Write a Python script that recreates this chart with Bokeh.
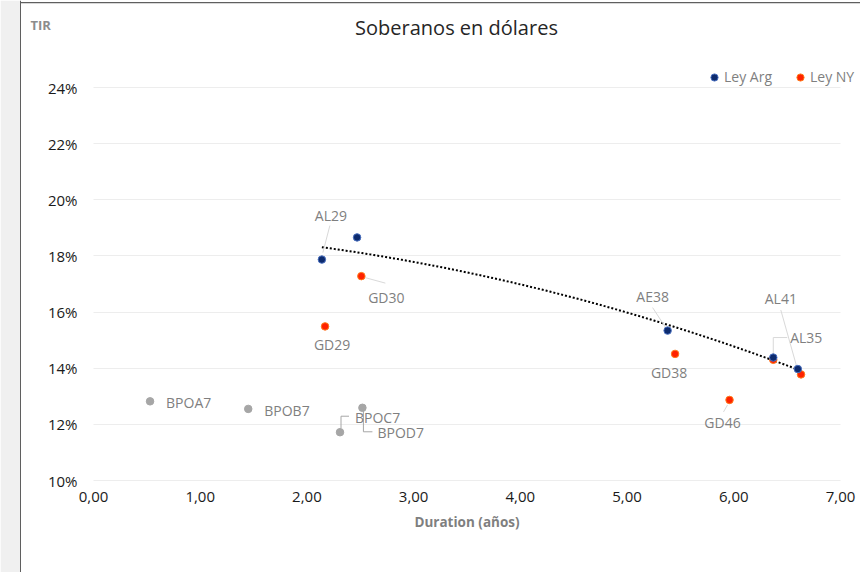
import numpy as np
from bokeh.plotting import figure
from bokeh.models import (Range1d, Legend, LegendItem, CustomJSTickFormatter, Label,
                          FixedTicker, ColumnDataSource, BoxAnnotation, Span)
from bokeh.core.properties import value
from bokeh.embed import file_html
from bokeh.resources import INLINE

# ---------------- data ----------------
arg_names = ["AL29", "AL30", "AE38", "AL35", "AL41"]
arg_dur = [2.14, 2.47, 5.38, 6.37, 6.60]
arg_tir = [17.87, 18.66, 15.34, 14.38, 13.97]

ny_names = ["GD29", "GD30", "GD38", "GD35", "GD41", "GD46"]
ny_dur = [2.17, 2.51, 5.45, 6.37, 6.63, 5.96]
ny_tir = [15.49, 17.28, 14.51, 14.30, 13.78, 12.87]

bp_names = ["BPOA7", "BPOB7", "BPOC7", "BPOD7"]
bp_dur = [0.53, 1.45, 2.31, 2.52]
bp_tir = [12.82, 12.55, 11.72, 12.59]

y_ticks = [10, 12, 14, 16, 18, 20, 22, 24]
x_ticks = [0, 1, 2, 3, 4, 5, 6, 7]

# ---------------- styling / layout (pixels) ----------------
FONT = "Open Sans"
GREY_TXT = "#7f7f7f"
W, H = 860, 572
PX0, PX7 = 93, 840        # pixel of x=0 and x=7
PY24, PY10 = 87, 480      # pixel of y=24 and y=10
SX = (PX7 - PX0) / 7
SY = (PY10 - PY24) / 14
X_START = 0 - PX0 / SX
X_END = 7 + (W - PX7) / SX
Y_START = 10 - (H - PY10) / SY
Y_END = 24 + PY24 / SY


def dx(px):
    return X_START + px / SX


def dy(py):
    return Y_END - py / SY


# label placement: (dx, dy) px of text anchor from point (screen, y down), align, leader polyline px offsets, leader colour
LBL = {
    "AL29": ((9, -44), "center", [(1, -7), (8, -34)], "#d9d9d9"),
    "GD30": ((25, 21), "center", [(2, 1), (24, 7)], "#d9d9d9"),
    "GD29": ((7, 18), "center", None, None),
    "AE38": ((-15, -34), "center", [(-15, -23), (-2, -3)], "#d9d9d9"),
    "GD38": ((-6, 19), "center", None, None),
    "GD46": ((-7, 23), "center", [(-2, 5), (-6, 12)], "#d9d9d9"),
    "AL41": ((-17, -71), "center", [(-17, -59), (-1, -2)], "#d9d9d9"),
    "AL35": ((33, -20), "center", [(14, -20), (0, -20), (0, -3)], "#d9d9d9"),
    "BPOA7": ((16, 1), "left", None, None),
    "BPOB7": ((16, 2), "left", None, None),
    "BPOC7": ((15, -15), "left", [(9, -16), (1, -16), (1, -4)], "#a6a6a6"),
    "BPOD7": ((15, 25), "left", [(1, 3), (1, 24), (10, 24)], "#a6a6a6"),
}

p = figure(width=W, height=H, output_backend="svg", toolbar_location=None,
           x_range=Range1d(X_START, X_END), y_range=Range1d(Y_START, Y_END),
           min_border_left=0, min_border_right=0, min_border_top=0, min_border_bottom=0)
p.title_location = None
p.outline_line_color = None
p.background_fill_color = "white"
p.border_fill_color = "white"

# chart-area decoration: grey strip and border on the left, border on top
p.add_layout(BoxAnnotation(left=X_START, right=dx(20), fill_color="#f0f0f0", fill_alpha=1,
                           line_color=None, level="underlay"))
p.add_layout(Span(location=dx(20), dimension="height", line_color="#5f5f5f", line_width=1))
p.add_layout(BoxAnnotation(left=dx(20), top=dy(1.5), bottom=dy(2.8), fill_color="#5f5f5f",
                           fill_alpha=1, line_color=None))

# axes (drawn inside the frame at fixed data positions)
p.xaxis.ticker = FixedTicker(ticks=x_ticks)
p.yaxis.ticker = FixedTicker(ticks=y_ticks)
p.xaxis.formatter = CustomJSTickFormatter(code="return tick.toFixed(2).replace('.', ',');")
p.yaxis.formatter = CustomJSTickFormatter(code="return tick.toFixed(0) + '%';")
p.yaxis.fixed_location = 0
p.xaxis.fixed_location = 10
for ax in (p.xaxis[0], p.yaxis[0]):
    ax.axis_line_color = None
    ax.major_tick_line_color = None
    ax.minor_tick_line_color = None
    ax.major_tick_out = 0
    ax.major_tick_in = 0
    ax.minor_tick_out = 0
    ax.major_label_text_font = FONT
    ax.major_label_text_font_size = "15px"
    ax.major_label_text_color = "#1a1a1a"
p.yaxis.major_label_standoff = 16
p.xaxis.major_label_standoff = 11

p.xgrid.grid_line_color = None
g = p.ygrid[0]
if "cross_bounds" in g.properties():
    g.cross_bounds = (0, 7)
    g.grid_line_color = "#ededed"
else:
    g.grid_line_color = None
    p.segment(x0=[0] * len(y_ticks), x1=[7] * len(y_ticks), y0=y_ticks, y1=y_ticks,
              line_color="#ededed", line_width=1, level="underlay")

# trend line (quadratic fit over Ley Arg bonds)
coef = np.polyfit(arg_dur, arg_tir, 2)
tx = np.linspace(min(arg_dur), max(arg_dur), 120)
p.line(tx, np.polyval(coef, tx), line_color="black", line_width=2, line_dash="2 2")

# leader lines
all_pts = {}
for n, x, y in zip(arg_names + ny_names + bp_names, arg_dur + ny_dur + bp_dur, arg_tir + ny_tir + bp_tir):
    all_pts[n] = (x, y)
lx, ly, lc = [], [], []
for n, (off, al, lead, col) in LBL.items():
    if lead:
        x, y = all_pts[n]
        lx.append([x + ddx / SX for ddx, ddy in lead])
        ly.append([y - ddy / SY for ddx, ddy in lead])
        lc.append(col)
p.multi_line(xs=lx, ys=ly, line_color=lc, line_width=1)

# points
r_bp = p.scatter(bp_dur, bp_tir, size=7.5, fill_color="#a6a6a6", line_color="#a6a6a6")
r_ny = p.scatter(ny_dur, ny_tir, size=7.5, fill_color="#ff2200", line_color="#ff7a1a", line_width=1)
r_arg = p.scatter(arg_dur, arg_tir, size=7.5, fill_color="#0d2b6e", line_color="#4a70c0", line_width=1)

# point labels
for align in ("center", "left"):
    xs, ys, ts, xo, yo = [], [], [], [], []
    for n, (off, al, lead, col) in LBL.items():
        if al != align:
            continue
        x, y = all_pts[n]
        xs.append(x); ys.append(y); ts.append(n); xo.append(off[0]); yo.append(off[1])
    src = ColumnDataSource(dict(x=xs, y=ys, t=ts, xo=xo, yo=yo))
    p.text(x="x", y="y", text="t", x_offset="xo", y_offset="yo", source=src,
           text_font=value(FONT), text_font_size="14px", text_color=GREY_TXT,
           text_align=align, text_baseline="middle")

# title, axis caption and axis title
p.add_layout(Label(x=dx(456), y=dy(27), text="Soberanos en dólares", text_font=FONT,
                   text_font_size="20px", text_color="#262626",
                   text_align="center", text_baseline="middle"))
p.add_layout(Label(x=dx(30), y=dy(24), text="TIR", text_font=FONT, text_font_size="13px",
                   text_font_style="bold", text_color="#8c8c8c",
                   text_align="left", text_baseline="middle"))
p.add_layout(Label(x=dx((PX0 + PX7) / 2), y=dy(521), text="Duration (años)", text_font=FONT,
                   text_font_size="13.5px", text_font_style="bold", text_color=GREY_TXT,
                   text_align="center", text_baseline="middle"))

# series legend
legend = Legend(items=[LegendItem(label="Ley Arg", renderers=[r_arg]),
                       LegendItem(label="Ley NY", renderers=[r_ny])],
                location=(705, H - 86), orientation="horizontal",
                border_line_color=None, background_fill_alpha=0,
                padding=0, margin=0, spacing=19, label_standoff=1,
                glyph_width=18, glyph_height=18,
                label_text_font=FONT, label_text_font_size="14px",
                label_text_color=GREY_TXT, label_height=18)
p.add_layout(legend, "center")

open("out.html", "w").write(file_html(p, INLINE))
